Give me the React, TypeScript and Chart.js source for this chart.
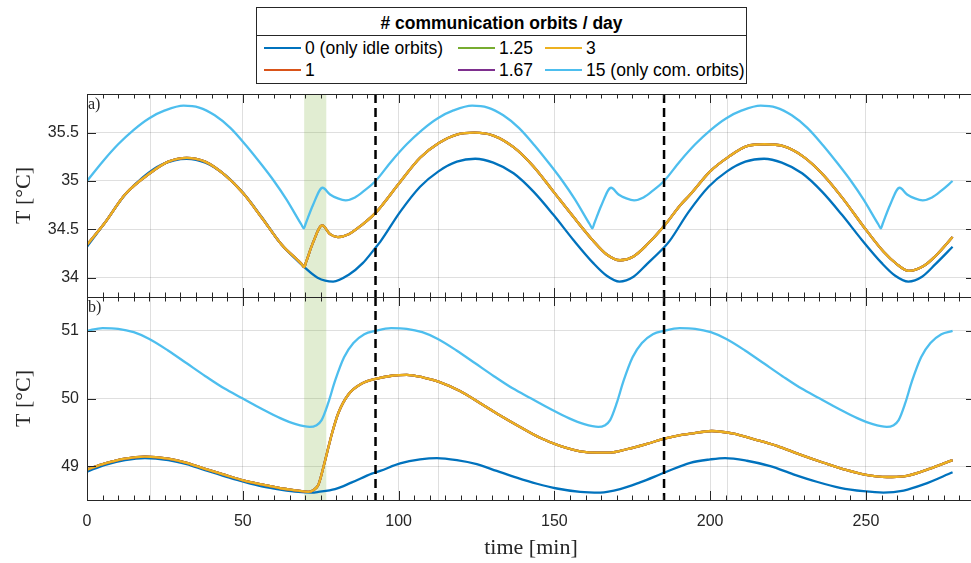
import React, { useEffect, useRef } from "react";
import { Chart, registerables } from "chart.js";

Chart.register(...registerables);

type Pt = [number, number];

// ---------- labels / legend ----------
const LEGEND_TITLE = "# communication orbits / day";
const SERIES_LABELS = ["0 (only idle orbits)", "1", "1.25", "1.67", "3", "15 (only com. orbits)"];
const SERIES_COLORS = ["#0072BD", "#D95319", "#77AC30", "#7E2F8E", "#EDB120", "#4DBEEE"];

// ---------- axes ----------
const X_TICKS = [0, 50, 100, 150, 200, 250];
const X_MIN = 0;
const X_MAX = 285;
const X_MINOR_STEP = 5;
const TOP_Y_TICKS = [34, 34.5, 35, 35.5];
const TOP_Y_RANGE = [33.8, 35.9];
const BOT_Y_TICKS = [49, 50, 51];
const BOT_Y_RANGE = [48.5, 51.5];
const X_TITLE = "time [min]";
const Y_TITLE = "T [°C]";

// ---------- annotations ----------
const ORBIT_LINES = [92.6, 185.2];
const COMM_WINDOW = [69.7, 76.8];
const EXTRA_GRID = [20.2, 112.8, 205.4];

// ---------- panel a) ----------
const TOP_IDLE: Pt[] = [
  [0, 34.32], [6, 34.58], [12, 34.85], [18, 35.04], [24, 35.17], [32, 35.23], [38, 35.19], [44, 35.07],
  [50, 34.88], [56, 34.63], [62, 34.36], [69.7, 34.11], [74, 34.0], [79, 33.96], [84, 34.03], [88.5, 34.15],
  [92.6, 34.31], [94.1, 34.37], [100.5, 34.68], [106.9, 34.94], [112.8, 35.1], [118.7, 35.2], [124.6, 35.23],
  [130.4, 35.19], [136.9, 35.08], [143.3, 34.89], [149.7, 34.65], [156.1, 34.39], [162.5, 34.15], [166.8, 34.02],
  [170.9, 33.96], [175.4, 34.01], [179.7, 34.14], [185.4, 34.32], [187, 34.38], [193.1, 34.68], [199.5, 34.94],
  [205.4, 35.1], [211.3, 35.2], [217.3, 35.23], [223, 35.19], [229.5, 35.08], [235.9, 34.89], [242.3, 34.65],
  [248.7, 34.39], [255.1, 34.15], [259.4, 34.02], [263.6, 33.96], [268, 34.01], [272.3, 34.14], [277.8, 34.32],
];

const TOP_MULTI: Pt[] = [
  [0, 34.34], [5.8, 34.57], [12.2, 34.86], [20.2, 35.08], [26.1, 35.2], [32, 35.24], [37.9, 35.2], [44.3, 35.06],
  [50.2, 34.87], [56.1, 34.62], [62.5, 34.34], [68.9, 34.14], [69.7, 34.11], [70.3, 34.16], [72.5, 34.36],
  [75.5, 34.54], [78, 34.45], [80.5, 34.42], [84, 34.45], [88, 34.54], [92.6, 34.67], [100.5, 34.99],
  [106.9, 35.24], [112.8, 35.39], [118.7, 35.48], [124.3, 35.5], [130.4, 35.47], [136.9, 35.35], [143.3, 35.15],
  [149.7, 34.89], [156.1, 34.63], [162.5, 34.38], [166.8, 34.24], [171.1, 34.18], [175.4, 34.22], [179.7, 34.34],
  [185.6, 34.55], [190.4, 34.75], [193.6, 34.86], [200, 35.1], [205.9, 35.25], [211.8, 35.36], [217.4, 35.38],
  [223.5, 35.36], [230, 35.25], [236.4, 35.06], [242.8, 34.81], [249.2, 34.53], [255.6, 34.27], [259.9, 34.14],
  [263.7, 34.07], [268.5, 34.12], [272.8, 34.24], [277.8, 34.42],
];

const TOP_COM: Pt[] = [
  [0, 35.0], [5, 35.2], [10, 35.38], [15, 35.53], [20, 35.65], [25, 35.73], [31, 35.78], [36, 35.76], [41, 35.68],
  [46, 35.55], [51, 35.37], [56, 35.17], [60, 35.0], [64, 34.81], [68.8, 34.55], [69.6, 34.51], [70.2, 34.56],
  [72.5, 34.75], [75.6, 34.93], [78, 34.86], [80.5, 34.82], [83, 34.8], [86, 34.83], [89, 34.9], [92.6, 35.0],
  [97.6, 35.2], [102.6, 35.38], [107.6, 35.53], [112.6, 35.65], [117.6, 35.73], [123.6, 35.78], [128.6, 35.76],
  [133.6, 35.68], [138.6, 35.55], [143.6, 35.37], [148.6, 35.17], [152.6, 35.0], [156.6, 34.81], [161.4, 34.55],
  [162.2, 34.51], [162.8, 34.56], [165.1, 34.75], [168.2, 34.93], [170.6, 34.86], [173.1, 34.82], [175.6, 34.8],
  [178.6, 34.83], [181.6, 34.9], [185.2, 35.0], [190.2, 35.2], [195.2, 35.38], [200.2, 35.53], [205.2, 35.65],
  [210.2, 35.73], [216.2, 35.78], [221.2, 35.76], [226.2, 35.68], [231.2, 35.55], [236.2, 35.37], [241.2, 35.17],
  [245.2, 35.0], [249.2, 34.81], [254, 34.55], [254.8, 34.51], [255.4, 34.56], [257.7, 34.75], [260.8, 34.93],
  [263.2, 34.86], [265.7, 34.82], [268.2, 34.8], [271.2, 34.83], [274.2, 34.9], [277.8, 35.0],
];

// ---------- panel b) ----------
const BOT_IDLE: Pt[] = [
  [0, 48.92], [5.8, 49.02], [12.2, 49.09], [18.6, 49.12], [26.1, 49.09], [32, 49.03], [37.9, 48.94], [44.3, 48.85],
  [50.2, 48.77], [56.1, 48.7], [62.5, 48.65], [67.8, 48.62], [72.1, 48.61], [74.3, 48.62], [79.6, 48.66],
  [85, 48.76], [91.4, 48.89], [94.1, 48.93], [100.5, 49.04], [106.9, 49.1], [112.3, 49.12], [118.7, 49.09],
  [125.1, 49.03], [131.5, 48.93], [137.9, 48.83], [144.4, 48.74], [150.8, 48.67], [158.3, 48.62], [164.7, 48.61],
  [171.1, 48.66], [177.5, 48.76], [185.6, 48.91], [193.6, 49.05], [200, 49.1], [204.8, 49.12], [211.8, 49.08],
  [219.3, 49.0], [226.7, 48.88], [234.2, 48.77], [241.7, 48.68], [249.2, 48.63], [255.6, 48.61], [262.1, 48.64],
  [268.5, 48.73], [277.8, 48.91],
];

const BOT_MULTI: Pt[] = [
  [0, 48.95], [5.8, 49.04], [12.2, 49.11], [18.6, 49.14], [26.1, 49.11], [32, 49.05], [37.9, 48.96], [44.3, 48.87],
  [50.2, 48.79], [56.1, 48.73], [62.5, 48.67], [67.8, 48.64], [71, 48.62], [72.8, 48.65], [74.3, 48.73],
  [76.4, 49.08], [78.6, 49.48], [80.7, 49.79], [83.9, 50.06], [88.2, 50.22], [92.6, 50.29], [98.3, 50.34],
  [102.6, 50.35], [108, 50.31], [112.8, 50.25], [119.7, 50.11], [126.2, 49.93], [132.6, 49.75], [139, 49.58],
  [145.4, 49.42], [151.8, 49.3], [158.3, 49.22], [163.6, 49.2], [167.9, 49.2], [173.2, 49.25], [179.7, 49.33],
  [185.6, 49.41], [190.4, 49.46], [193.6, 49.48], [200.5, 49.52], [207.5, 49.48], [213.9, 49.4], [221.4, 49.3],
  [228.9, 49.17], [236.4, 49.05], [243.9, 48.94], [249.2, 48.88], [256.7, 48.84], [262.1, 48.85], [268.5, 48.93],
  [273.8, 49.02], [277.8, 49.09],
];

const BOT_COM: Pt[] = [
  [0, 51.0], [5, 51.04], [10, 51.03], [15, 50.98], [20, 50.88], [26, 50.71], [32, 50.52], [38, 50.33], [44, 50.15],
  [50, 50.0], [56, 49.85], [62, 49.71], [67, 49.62], [71.5, 49.58], [73.5, 49.6], [75.3, 49.68], [77.4, 49.93],
  [79.6, 50.26], [82.5, 50.61], [85.5, 50.82], [89, 50.95], [92.6, 51.0], [97.6, 51.04], [102.6, 51.03],
  [107.6, 50.98], [112.6, 50.88], [118.6, 50.71], [124.6, 50.52], [130.6, 50.33], [136.6, 50.15], [142.6, 50.0],
  [148.6, 49.85], [154.6, 49.71], [159.6, 49.62], [164.1, 49.58], [166.1, 49.6], [167.9, 49.68], [170, 49.93],
  [172.2, 50.26], [175.1, 50.61], [178.1, 50.82], [181.6, 50.95], [185.2, 51.0], [190.2, 51.04], [195.2, 51.03],
  [200.2, 50.98], [205.2, 50.88], [211.2, 50.71], [217.2, 50.52], [223.2, 50.33], [229.2, 50.15], [235.2, 50.0],
  [241.2, 49.85], [247.2, 49.71], [252.2, 49.62], [256.7, 49.58], [258.7, 49.6], [260.5, 49.68], [262.6, 49.93],
  [264.8, 50.26], [267.7, 50.61], [270.7, 50.82], [274.2, 50.95], [277.8, 51.0],
];

// ---------- styling ----------
const AXIS_COLOR = "#262626";
const GRID_COLOR = "rgba(38,38,38,0.15)";
const SANS = '"Liberation Sans", Arial, sans-serif';
const SERIF = '"Liberation Serif", "Times New Roman", serif';

type PanelCfg = {
  idle: Pt[];
  multi: Pt[];
  com: Pt[];
  yTicks: number[];
  yRange: number[];
  tag: string;
  showXLabels: boolean;
  padTop: number;
  padBottom: number;
  xAxisHeight: number;
};

function makeDecor(cfg: PanelCfg) {
  return {
    id: "decor",
    beforeDatasetsDraw(chart: any) {
      const { ctx, chartArea: a } = chart;
      const x = chart.scales.x;
      ctx.save();
      const x0 = x.getPixelForValue(COMM_WINDOW[0]);
      const x1 = x.getPixelForValue(COMM_WINDOW[1]);
      ctx.fillStyle = "rgba(119,172,48,0.22)";
      ctx.fillRect(x0, a.top, x1 - x0, a.bottom - a.top);
      ctx.strokeStyle = GRID_COLOR;
      ctx.lineWidth = 1;
      for (const v of EXTRA_GRID) {
        const px = Math.round(x.getPixelForValue(v)) + 0.5;
        ctx.beginPath();
        ctx.moveTo(px, a.top);
        ctx.lineTo(px, a.bottom);
        ctx.stroke();
      }
      ctx.restore();
    },
    afterDatasetsDraw(chart: any) {
      const { ctx, chartArea: a } = chart;
      const x = chart.scales.x;
      ctx.save();
      ctx.strokeStyle = "#000";
      ctx.lineWidth = 2.5;
      ctx.setLineDash([9, 5]);
      for (const v of ORBIT_LINES) {
        const px = x.getPixelForValue(v);
        ctx.beginPath();
        ctx.moveTo(px, a.top);
        ctx.lineTo(px, a.bottom);
        ctx.stroke();
      }
      ctx.restore();
    },
    afterDraw(chart: any) {
      const { ctx, chartArea: a } = chart;
      const x = chart.scales.x;
      const y = chart.scales.y;
      ctx.save();
      ctx.strokeStyle = AXIS_COLOR;
      ctx.lineWidth = 1;
      ctx.strokeRect(Math.round(a.left) + 0.5, Math.round(a.top) + 0.5, Math.round(a.right - a.left), Math.round(a.bottom - a.top));
      ctx.beginPath();
      for (let v = X_MIN; v <= X_MAX; v += X_MINOR_STEP) {
        const major = X_TICKS.includes(v);
        const len = major ? 9 : 4.5;
        const px = Math.round(x.getPixelForValue(v)) + 0.5;
        ctx.moveTo(px, a.bottom);
        ctx.lineTo(px, a.bottom - len);
        ctx.moveTo(px, a.top);
        ctx.lineTo(px, a.top + len);
      }
      for (const v of cfg.yTicks) {
        const py = Math.round(y.getPixelForValue(v)) + 0.5;
        ctx.moveTo(a.left, py);
        ctx.lineTo(a.left + 9, py);
        ctx.moveTo(a.right, py);
        ctx.lineTo(a.right - 9, py);
      }
      ctx.stroke();
      ctx.fillStyle = AXIS_COLOR;
      ctx.font = `16px ${SERIF}`;
      ctx.textAlign = "left";
      ctx.textBaseline = "top";
      ctx.fillText(cfg.tag, a.left + 1, a.top + 3);
      ctx.font = `22px ${SERIF}`;
      ctx.textAlign = "center";
      ctx.textBaseline = "middle";
      ctx.translate(24, (a.top + a.bottom) / 2);
      ctx.rotate(-Math.PI / 2);
      ctx.fillText(Y_TITLE, 0, 0);
      ctx.restore();
      if (cfg.showXLabels) {
        ctx.save();
        ctx.fillStyle = AXIS_COLOR;
        ctx.font = `22px ${SERIF}`;
        ctx.textAlign = "center";
        ctx.textBaseline = "middle";
        ctx.fillText(X_TITLE, (a.left + a.right) / 2, 548);
        ctx.restore();
      }
    },
  };
}

function buildConfig(cfg: PanelCfg): any {
  const mk = (label: string, color: string, pts: Pt[]) => ({
    label,
    data: pts.map(([t, v]) => ({ x: t, y: v })),
    borderColor: color,
    backgroundColor: color,
    borderWidth: 2.3,
    pointRadius: 0,
    fill: false,
    cubicInterpolationMode: "monotone",
  });
  const datasets = [
    mk(SERIES_LABELS[5], SERIES_COLORS[5], cfg.com),
    mk(SERIES_LABELS[4], SERIES_COLORS[4], cfg.multi),
    mk(SERIES_LABELS[3], SERIES_COLORS[3], cfg.multi),
    mk(SERIES_LABELS[2], SERIES_COLORS[2], cfg.multi),
    mk(SERIES_LABELS[1], SERIES_COLORS[1], cfg.multi),
    mk(SERIES_LABELS[0], SERIES_COLORS[0], cfg.idle),
  ];
  return {
    type: "line",
    data: { datasets },
    options: {
      animation: false,
      responsive: false,
      devicePixelRatio: 1,
      events: [],
      layout: { padding: { left: 0, right: 15, top: cfg.padTop, bottom: cfg.padBottom } },
      plugins: { legend: { display: false }, tooltip: { enabled: false }, title: { display: false } },
      scales: {
        x: {
          type: "linear",
          min: X_MIN,
          max: X_MAX,
          afterBuildTicks: (s: any) => {
            s.ticks = X_TICKS.map((v) => ({ value: v }));
          },
          grid: { color: GRID_COLOR, lineWidth: 1, drawTicks: false },
          border: { display: false },
          ticks: {
            display: cfg.showXLabels,
            color: AXIS_COLOR,
            font: { family: SANS, size: 16 },
            padding: 12,
            maxRotation: 0,
            callback: (v: number) => String(v),
          },
          afterFit: (s: any) => {
            s.height = cfg.xAxisHeight;
            s.paddingLeft = 0;
            s.paddingRight = 0;
          },
        },
        y: {
          type: "linear",
          min: cfg.yRange[0],
          max: cfg.yRange[1],
          afterBuildTicks: (s: any) => {
            s.ticks = cfg.yTicks.map((v) => ({ value: v }));
          },
          grid: { color: GRID_COLOR, lineWidth: 1, drawTicks: false },
          border: { display: false },
          ticks: {
            color: AXIS_COLOR,
            font: { family: SANS, size: 16 },
            padding: 8,
            callback: (v: number) => String(v),
          },
          afterFit: (s: any) => {
            s.width = 87;
            s.paddingTop = 0;
            s.paddingBottom = 0;
          },
        },
      },
    },
    plugins: [makeDecor(cfg)],
  };
}

const legendText: React.CSSProperties = {
  position: "absolute",
  fontFamily: SANS,
  fontSize: 17.5,
  lineHeight: "20px",
  color: "#000",
  whiteSpace: "nowrap",
};

function LegendItem(props: { idx: number; left: number; top: number }) {
  const { idx, left, top } = props;
  return (
    <>
      <div
        style={{
          position: "absolute",
          left,
          top: top - 1,
          width: 37,
          height: 2,
          background: SERIES_COLORS[idx],
        }}
      />
      <div style={{ ...legendText, left: left + 41, top: top - 10 }}>{SERIES_LABELS[idx]}</div>
    </>
  );
}

export default function App() {
  const topRef = useRef<HTMLCanvasElement>(null);
  const botRef = useRef<HTMLCanvasElement>(null);

  useEffect(() => {
    const top = new Chart(
      topRef.current as HTMLCanvasElement,
      buildConfig({
        idle: TOP_IDLE,
        multi: TOP_MULTI,
        com: TOP_COM,
        yTicks: TOP_Y_TICKS,
        yRange: TOP_Y_RANGE,
        tag: "a)",
        showXLabels: false,
        padTop: 94,
        padBottom: 3,
        xAxisHeight: 0,
      })
    );
    const bot = new Chart(
      botRef.current as HTMLCanvasElement,
      buildConfig({
        idle: BOT_IDLE,
        multi: BOT_MULTI,
        com: BOT_COM,
        yTicks: BOT_Y_TICKS,
        yRange: BOT_Y_RANGE,
        tag: "b)",
        showXLabels: true,
        padTop: 297,
        padBottom: 0,
        xAxisHeight: 63,
      })
    );
    return () => {
      top.destroy();
      bot.destroy();
    };
  }, []);

  return (
    <div
      style={{
        position: "fixed",
        left: 0,
        top: 0,
        width: 971,
        height: 563,
        overflow: "hidden",
        background: "#fff",
      }}
    >
      <canvas
        ref={botRef}
        width={990}
        height={563}
        style={{ position: "absolute", left: 0, top: 0, width: 990, height: 563 }}
      />
      <canvas
        ref={topRef}
        width={990}
        height={300}
        style={{ position: "absolute", left: 0, top: 0, width: 990, height: 300 }}
      />
      <div
        style={{
          position: "absolute",
          left: 256,
          top: 7,
          width: 491,
          height: 77,
          boxSizing: "border-box",
          border: `1px solid ${AXIS_COLOR}`,
          background: "#fff",
        }}
      >
        <div
          style={{
            position: "absolute",
            left: 0,
            top: 0,
            width: "100%",
            height: 28,
            borderBottom: `1px solid ${AXIS_COLOR}`,
            boxSizing: "border-box",
            textAlign: "center",
            fontFamily: SANS,
            fontWeight: "bold",
            fontSize: 17.5,
            lineHeight: "30px",
            color: "#000",
          }}
        >
          {LEGEND_TITLE}
        </div>
        <LegendItem idx={0} left={7} top={39.5} />
        <LegendItem idx={1} left={7} top={62} />
        <LegendItem idx={2} left={201} top={39.5} />
        <LegendItem idx={3} left={201} top={62} />
        <LegendItem idx={4} left={288} top={39.5} />
        <LegendItem idx={5} left={288} top={62} />
      </div>
    </div>
  );
}
